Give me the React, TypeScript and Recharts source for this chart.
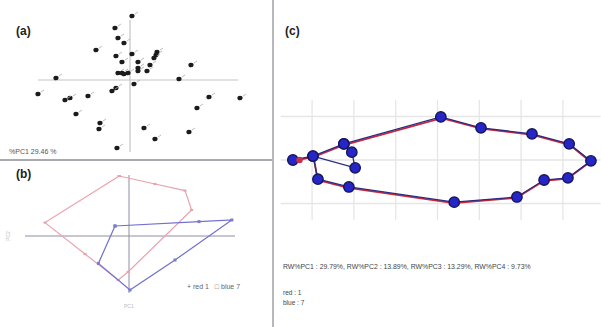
import { ScatterChart, Scatter, XAxis, YAxis, ReferenceLine } from 'recharts';

// (a) specimen scores, PC1 / PC2
const scoresA: Array<[number, number]> = [
  [0.1, 3.2], [-0.75, 2.6], [-0.6, 2.1], [-0.3, 1.85], [-1.7, 1.5], [-0.7, 1.2],
  [0.1, 1.3], [-0.4, 0.9], [1.35, 1.4], [1.3, 1.25], [1.2, 1.1], [0.4, 0.9],
  [1.0, 0.75], [0.4, 0.6], [0.4, 0.45], [0.85, 0.45], [-0.6, 0.35], [-0.4, 0.35],
  [-0.3, 0.3], [-0.1, 0.35], [3.05, 0.75], [2.45, 0.05], [-3.7, 0.1], [0.2, -0.2],
  [-0.7, -0.4], [-0.9, -0.55], [-4.6, -0.7], [-3.0, -0.9], [-3.25, -1.0], [-2.1, -0.8],
  [3.95, -0.85], [5.5, -0.9], [3.35, -1.4], [-2.7, -1.7], [-1.5, -2.15], [-1.55, -2.45],
  [0.7, -2.4], [2.95, -2.6], [1.25, -2.95], [-0.65, -3.4],
];

// (b) convex hulls of the two groups
const hullRed: Array<[number, number]> = [
  [-0.49, 3.0], [1.3, 2.6], [2.8, 2.27], [3.13, 1.3], [-0.04, -1.79], [-0.54, -2.2],
  [-2.2, -0.9], [-4.2, 0.67], [-0.49, 3.0],
];
const hullBlue: Array<[number, number]> = [
  [-0.7, 0.5], [3.5, 0.72], [5.14, 0.8], [2.3, -1.2], [0.05, -2.7], [-1.53, -1.37], [-0.7, 0.5],
];

// (c) landmark outline (warped shape)
const outlineBlue: Array<[number, number]> = [
  [-3.46, 0.0], [-2.98, 0.09], [-2.24, 0.37], [0.08, 0.99], [1.04, 0.74], [2.26, 0.6],
  [3.15, 0.37], [3.67, -0.02], [3.12, -0.41], [2.55, -0.46], [1.9, -0.85], [0.4, -0.97],
  [-2.12, -0.62], [-2.86, -0.44], [-2.98, 0.09], [-1.97, -0.18], [-2.05, 0.18], [-2.24, 0.37],
];
const outlineRed: Array<[number, number]> = [
  [-3.38, -0.01], [-2.96, 0.07], [-2.22, 0.35], [0.1, 0.96], [1.05, 0.72], [2.27, 0.58],
  [3.16, 0.35], [3.66, -0.04], [3.11, -0.43], [2.54, -0.48], [1.89, -0.87], [0.39, -0.99],
  [-2.13, -0.64], [-2.87, -0.46], [-2.96, 0.07],
];
const redStart: Array<[number, number]> = [[-3.3, 0.0]];

const gridX = [-3, -2, -1, 0, 1, 2, 3];
const gridY = [-1, 0, 1];

const statsText = 'RW%PC1 : 29.79%, RW%PC2 : 13.89%, RW%PC3 : 13.29%, RW%PC4 : 9.73%';
const groupCounts = ['red : 1', 'blue : 7'];
const pcaText = '%PC1     29.46 %';

const toPts = (arr: Array<[number, number]>) => arr.map(([x, y]) => ({ x, y }));

const font = '"Liberation Sans", Arial, sans-serif';

const specimenDot = (p: any) => (
  <g>
    <ellipse cx={p.cx} cy={p.cy} rx={2.6} ry={2.3} fill="#1b1b1b" />
    <line x1={p.cx + 3} y1={p.cy - 2} x2={p.cx + 6} y2={p.cy - 4} stroke="#aaa" strokeWidth={0.8} />
  </g>
);
const redMark = (p: any) => (
  <rect x={p.cx - 1.5} y={p.cy - 1} width={3} height={2} fill="#e6a0aa" />
);
const blueMark = (p: any) => (
  <rect x={p.cx - 1.5} y={p.cy - 1.5} width={3} height={3} fill="#7c7cc8" />
);
const landmark = (p: any) => (
  <circle cx={p.cx} cy={p.cy} r={5.2} fill="#2626c8" stroke="#16165a" strokeWidth={1.4} />
);
const redLandmark = (p: any) => (
  <circle cx={p.cx} cy={p.cy} r={3.2} fill="#c8304a" />
);
const noMark = () => <g />;

function PanelA() {
  return (
    <ScatterChart width={270} height={160} margin={{ top: 0, right: 0, bottom: 0, left: 0 }}>
      <XAxis type="number" dataKey="x" domain={[-6.5, 7]} allowDataOverflow hide />
      <YAxis type="number" dataKey="y" domain={[-4, 4]} allowDataOverflow hide />
      <ReferenceLine segment={[{ x: -4.6, y: 0 }, { x: 5.4, y: 0 }]} stroke="#c4c4c4" strokeWidth={1.2} />
      <ReferenceLine segment={[{ x: 0, y: 3.0 }, { x: 0, y: -3.6 }]} stroke="#c4c4c4" strokeWidth={1.2} />
      <Scatter data={toPts(scoresA)} shape={specimenDot} isAnimationActive={false} />
    </ScatterChart>
  );
}

function PanelB() {
  return (
    <ScatterChart width={270} height={165} margin={{ top: 0, right: 0, bottom: 0, left: 0 }}>
      <XAxis type="number" dataKey="x" domain={[-6.45, 7.05]} allowDataOverflow hide />
      <YAxis type="number" dataKey="y" domain={[-4.55, 3.7]} allowDataOverflow hide />
      <ReferenceLine segment={[{ x: -5.2, y: 0 }, { x: 5.3, y: 0 }]} stroke="#8e8ea8" strokeWidth={1} />
      <ReferenceLine segment={[{ x: 0, y: 3.05 }, { x: 0, y: -2.85 }]} stroke="#8e8ea8" strokeWidth={1} />
      <Scatter data={toPts(hullRed)} line={{ stroke: '#eaa3ae', strokeWidth: 1.2 }} shape={redMark} isAnimationActive={false} />
      <Scatter data={toPts(hullBlue)} line={{ stroke: '#6f6fd0', strokeWidth: 1.2 }} shape={blueMark} isAnimationActive={false} />
    </ScatterChart>
  );
}

function PanelC() {
  return (
    <ScatterChart width={327} height={327} margin={{ top: 0, right: 0, bottom: 0, left: 0 }}>
      <XAxis type="number" dataKey="x" domain={[-3.911, 3.911]} allowDataOverflow hide />
      <YAxis type="number" dataKey="y" domain={[-3.839, 3.678]} allowDataOverflow hide />
      {gridY.map((g) => (
        <ReferenceLine key={'h' + g} segment={[{ x: -3.75, y: g }, { x: 3.9, y: g }]} stroke="#e6e6e6" strokeWidth={1.3} />
      ))}
      {gridX.map((g) => (
        <ReferenceLine key={'v' + g} segment={[{ x: g, y: 1.38 }, { x: g, y: -1.38 }]} stroke="#e6e6e6" strokeWidth={1.3} />
      ))}
      <Scatter data={toPts(outlineRed)} line={{ stroke: '#c8283c', strokeWidth: 1.8 }} shape={noMark} isAnimationActive={false} />
      <Scatter data={toPts(outlineBlue)} line={{ stroke: '#2b2b80', strokeWidth: 1.3 }} shape={landmark} isAnimationActive={false} />
      <Scatter data={toPts(redStart)} shape={redLandmark} isAnimationActive={false} />
    </ScatterChart>
  );
}

export default function App() {
  const label = { position: 'absolute' as const, fontFamily: font, fontWeight: 700, fontSize: 12, color: '#222' };
  const small = { position: 'absolute' as const, fontFamily: font, fontSize: 6.5, color: '#555', whiteSpace: 'nowrap' as const };
  return (
    <div style={{ position: 'absolute', left: 0, top: 0, width: 601, height: 327, background: '#fff', overflow: 'hidden' }}>
      <div style={{ position: 'absolute', left: 0, top: 0 }}>
        <PanelA />
      </div>
      <div style={{ position: 'absolute', left: 0, top: 162 }}>
        <PanelB />
      </div>
      <div style={{ position: 'absolute', left: 274, top: 0 }}>
        <PanelC />
      </div>
      {/* separators */}
      <div style={{ position: 'absolute', left: 0, top: 159, width: 272, height: 2, background: '#a9a9b4' }} />
      <div style={{ position: 'absolute', left: 272, top: 0, width: 2, height: 327, background: '#b8b8bc' }} />

      <div style={{ ...label, left: 16, top: 24 }}>(a)</div>
      <div style={{ ...label, left: 16, top: 167 }}>(b)</div>
      <div style={{ ...label, left: 285, top: 24 }}>(c)</div>

      <div style={{ ...small, left: 9, top: 148, fontSize: 7 }}>{pcaText}</div>

      {/* (b) legend and axis titles */}
      <div style={{ ...small, left: 187, top: 283, color: '#666', fontSize: 7 }}>
        + red 1&nbsp;&nbsp;&nbsp;□ blue 7
      </div>
      <div style={{ ...small, left: 3, top: 233, color: '#bbb', transform: 'rotate(-90deg)', fontSize: 5 }}>PC2</div>
      <div style={{ ...small, left: 124, top: 303, color: '#bbb', fontSize: 5 }}>PC1</div>

      {/* (c) texts */}
      <div style={{ ...small, left: 283, top: 263, color: '#444', fontSize: 6.9 }}>{statsText}</div>
      {groupCounts.map((t, i) => (
        <div key={t} style={{ ...small, left: 283, top: 289 + i * 10, color: '#444' }}>{t}</div>
      ))}
    </div>
  );
}
